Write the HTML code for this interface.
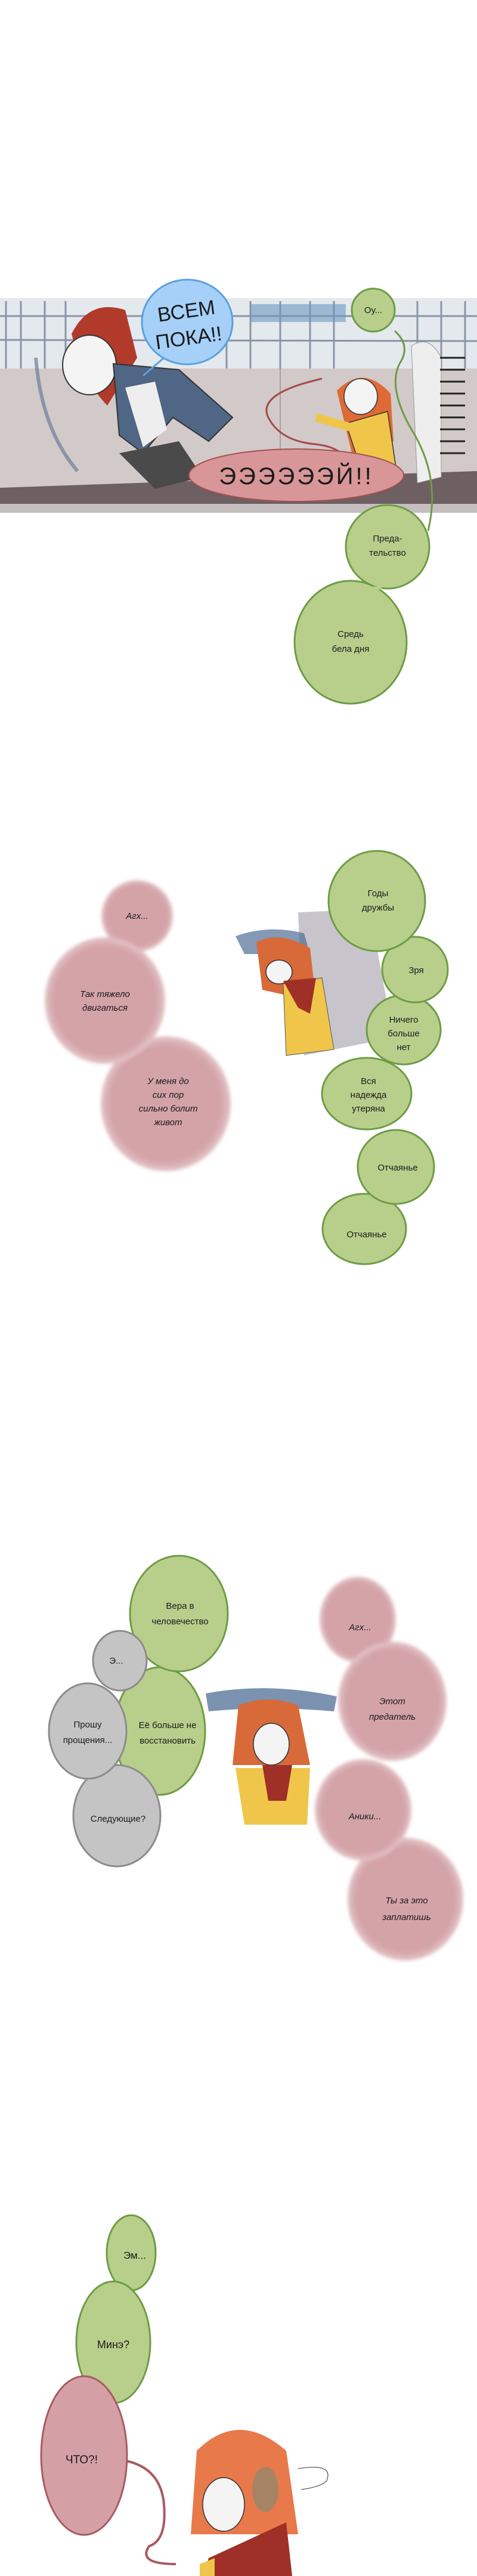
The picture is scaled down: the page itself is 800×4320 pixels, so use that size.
<!DOCTYPE html>
<html><head><meta charset="utf-8"><style>
html,body{margin:0;padding:0;background:#fff}
svg{display:block}
text{font-family:"Liberation Sans",sans-serif;fill:#1a1a1a}
.g{fill:#b8cf8c;stroke:#6e9c45;stroke-width:3}
.gr{fill:#c4c4c4;stroke:#8c8c8c;stroke-width:3}
.t{font-size:15px;text-anchor:middle}
.i{font-size:15px;text-anchor:middle;font-style:italic}
</style></head><body>
<svg width="800" height="4320" viewBox="0 0 800 4320" xmlns="http://www.w3.org/2000/svg">
<defs>
<filter id="soft" x="-20%" y="-20%" width="140%" height="140%"><feGaussianBlur stdDeviation="3"/></filter>
<radialGradient id="pk" cx="50%" cy="50%" r="50%">
<stop offset="0" stop-color="#d3a3a8"/><stop offset="0.85" stop-color="#d3a3a8"/><stop offset="1" stop-color="#e4c4c7"/>
</radialGradient>
</defs>

<!-- PANEL 1 -->
<rect x="0" y="500" width="800" height="120" fill="#e4e9ee"/>
<g stroke="#8a95a5" stroke-width="3">
<line x1="10" y1="505" x2="10" y2="618"/><line x1="35" y1="505" x2="35" y2="618"/><line x1="75" y1="505" x2="75" y2="618"/><line x1="110" y1="505" x2="110" y2="618"/>
<line x1="380" y1="505" x2="380" y2="618"/><line x1="420" y1="505" x2="420" y2="618"/><line x1="470" y1="505" x2="470" y2="618"/><line x1="520" y1="505" x2="520" y2="618"/><line x1="560" y1="505" x2="560" y2="618"/>
<line x1="700" y1="505" x2="700" y2="618"/><line x1="740" y1="505" x2="740" y2="618"/><line x1="780" y1="505" x2="780" y2="618"/>
<line x1="0" y1="530" x2="800" y2="530"/><line x1="0" y1="570" x2="800" y2="572"/>
</g>
<rect x="420" y="510" width="160" height="30" fill="#6d9ac0" opacity="0.6"/>
<rect x="0" y="618" width="800" height="205" fill="#d2c9c9"/>
<line x1="470" y1="618" x2="470" y2="860" stroke="#9a9090" stroke-width="1.5"/>
<polygon points="0,818 800,790 800,860 0,860" fill="#6e5f63"/>
<rect x="0" y="845" width="800" height="18" fill="#fff" opacity="0.6"/>
<!-- left character -->
<path d="M120,560 Q150,500 210,520 L230,600 L180,680 Q140,640 120,560Z" fill="#b23a2a"/>
<ellipse cx="150" cy="612" rx="45" ry="50" fill="#f4f4f4" stroke="#333" stroke-width="2"/>
<path d="M190,610 L300,620 L390,700 L350,740 L290,700 L240,760 L200,730Z" fill="#4f6685" stroke="#333" stroke-width="2"/>
<path d="M210,650 L260,640 L280,720 L240,750Z" fill="#eee"/>
<path d="M200,760 L300,740 L340,800 L260,820 L230,790Z" fill="#4a4a4a"/>
<path d="M60,600 Q70,720 130,790" stroke="#6b7f9a" stroke-width="6" fill="none" opacity="0.7"/>
<!-- right character -->
<path d="M565,655 Q610,610 655,660 L660,740 L590,760Z" fill="#e06a35"/>
<ellipse cx="605" cy="665" rx="28" ry="30" fill="#f4f4f4" stroke="#333" stroke-width="1.5"/>
<path d="M580,710 L650,690 L665,790 L610,800Z" fill="#f0c64a" stroke="#333" stroke-width="1.5"/>
<path d="M530,700 L600,720" stroke="#f0c64a" stroke-width="14"/>
<path d="M690,580 Q720,560 740,600 L740,800 L700,810 Z" fill="#eee" stroke="#999"/>
<g stroke="#222" stroke-width="3"><line x1="738" y1="600" x2="780" y2="600"/><line x1="738" y1="620" x2="780" y2="620"/><line x1="738" y1="640" x2="780" y2="640"/><line x1="738" y1="660" x2="780" y2="660"/><line x1="738" y1="680" x2="780" y2="680"/><line x1="738" y1="700" x2="780" y2="700"/><line x1="738" y1="720" x2="780" y2="720"/><line x1="738" y1="740" x2="780" y2="740"/><line x1="738" y1="760" x2="780" y2="760"/></g>
<!-- red tail -->
<path d="M540,635 Q430,660 450,700 Q470,740 530,745 Q570,750 580,770" stroke="#a64848" stroke-width="3" fill="none"/>
<!-- green tail -->
<path d="M662,555 Q690,580 670,610 Q650,650 690,720 Q740,800 718,890" stroke="#6e9c45" stroke-width="3" fill="none"/>

<!-- blue bubble -->
<path d="M240,630 L275,600" stroke="#5aa0e0" stroke-width="3"/>
<ellipse cx="314" cy="540" rx="76" ry="71" fill="#a6d0f7" stroke="#5aa0e0" stroke-width="3"/>
<text x="314" y="533" style="font-size:34px;text-anchor:middle" transform="rotate(-8 314 533)">ВСЕМ</text>
<text x="318" y="578" style="font-size:34px;text-anchor:middle" transform="rotate(-8 318 578)">ПОКА!!</text>
<!-- red ellipse -->
<ellipse cx="497" cy="797" rx="180" ry="44" fill="#d89698" stroke="#a65050" stroke-width="2"/>
<text x="497" y="812" style="font-size:40px;text-anchor:middle;letter-spacing:4px">ЭЭЭЭЭЭЙ!!</text>
<!-- green bubbles -->
<circle cx="626" cy="520" r="36" class="g"/>
<text x="626" y="525" class="t">Оу...</text>
<ellipse cx="588" cy="1077" rx="94" ry="103" class="g"/>
<ellipse cx="650" cy="917" rx="70" ry="70" class="g"/>
<path d="M600,980 Q620,990 640,985" stroke="#b8cf8c" stroke-width="6" fill="none"/>
<text x="650" y="908" class="t">Преда-</text>
<text x="650" y="932" class="t">тельство</text>
<text x="588" y="1068" class="t">Средь</text>
<text x="588" y="1093" class="t">бела дня</text>

<!-- PANEL 2 -->
<g filter="url(#soft)">
<circle cx="230" cy="1536" r="60" fill="url(#pk)"/>
<ellipse cx="278" cy="1851" rx="109" ry="113" fill="url(#pk)"/>
<ellipse cx="176" cy="1678" rx="101" ry="106" fill="url(#pk)"/>
</g>
<text x="230" y="1541" class="i">Агх...</text>
<text x="176" y="1672" class="i">Так тяжело</text>
<text x="176" y="1695" class="i">двигаться</text>
<text x="282" y="1818" class="i">У меня до</text>
<text x="282" y="1841" class="i">сих пор</text>
<text x="282" y="1864" class="i">сильно болит</text>
<text x="282" y="1887" class="i">живот</text>
<!-- character 2 -->
<path d="M500,1530 L620,1525 L660,1740 L510,1770Z" fill="#c7c4cc"/>
<path d="M395,1570 Q450,1550 510,1565 L520,1600 L410,1600Z" fill="#4f6d96" opacity="0.7"/>
<path d="M430,1580 Q470,1560 520,1590 L530,1680 L440,1660Z" fill="#d86a3a"/>
<ellipse cx="468" cy="1630" rx="22" ry="20" fill="#f4f4f4" stroke="#333" stroke-width="1.5"/>
<path d="M475,1650 L540,1640 L560,1760 L480,1770Z" fill="#f0c64a" stroke="#555" stroke-width="1"/>
<path d="M475,1645 L530,1640 L520,1700 L500,1690Z" fill="#9e3027"/>
<!-- green chain -->
<ellipse cx="611" cy="2061" rx="70" ry="59" class="g"/>
<ellipse cx="664" cy="1957" rx="64" ry="62" class="g"/>
<ellipse cx="615" cy="1834" rx="75" ry="60" class="g"/>
<ellipse cx="677" cy="1727" rx="62" ry="58" class="g"/>
<circle cx="696" cy="1626" r="55" class="g"/>
<ellipse cx="632" cy="1511" rx="81" ry="84" class="g"/>
<text x="634" y="1503" class="t">Годы</text>
<text x="634" y="1527" class="t">дружбы</text>
<text x="698" y="1632" class="t">Зря</text>
<text x="677" y="1715" class="t">Ничего</text>
<text x="677" y="1738" class="t">больше</text>
<text x="677" y="1761" class="t">нет</text>
<text x="618" y="1818" class="t">Вся</text>
<text x="618" y="1841" class="t">надежда</text>
<text x="618" y="1864" class="t">утеряна</text>
<text x="667" y="1963" class="t">Отчаянье</text>
<text x="615" y="2075" class="t">Отчаянье</text>

<!-- PANEL 3 -->
<ellipse cx="268" cy="2903" rx="76" ry="107" class="g"/>
<ellipse cx="300" cy="2706" rx="82" ry="97" class="g"/>
<ellipse cx="196" cy="3045" rx="73" ry="85" class="gr"/>
<ellipse cx="147" cy="2903" rx="65" ry="80" class="gr"/>
<ellipse cx="201" cy="2785" rx="45" ry="50" class="gr"/>
<text x="302" y="2698" class="t">Вера в</text>
<text x="302" y="2724" class="t">человечество</text>
<text x="195" y="2790" class="t">Э...</text>
<text x="147" y="2897" class="t">Прошу</text>
<text x="147" y="2923" class="t">прощения...</text>
<text x="281" y="2898" class="t">Её больше не</text>
<text x="281" y="2924" class="t">восстановить</text>
<text x="198" y="3055" class="t">Следующие?</text>
<!-- character 3 -->
<path d="M345,2840 Q450,2820 565,2845 L560,2870 Q450,2860 350,2870Z" fill="#4f6d96" opacity="0.75"/>
<path d="M400,2860 Q450,2840 500,2860 L520,2960 L390,2960Z" fill="#d86a3a"/>
<ellipse cx="455" cy="2925" rx="30" ry="35" fill="#f4f4f4" stroke="#333" stroke-width="1.5"/>
<path d="M395,2965 L520,2965 L515,3060 L410,3060Z" fill="#f0c64a"/>
<path d="M440,2960 L490,2960 L480,3020 L450,3020Z" fill="#9e3027"/>
<g filter="url(#soft)">
<ellipse cx="600" cy="2716" rx="64" ry="72" fill="url(#pk)"/>
<ellipse cx="680" cy="3185" rx="97" ry="103" fill="url(#pk)"/>
<ellipse cx="609" cy="3035" rx="81" ry="85" fill="url(#pk)"/>
<ellipse cx="658" cy="2853" rx="91" ry="100" fill="url(#pk)"/>
</g>
<text x="604" y="2734" class="i">Агх...</text>
<text x="658" y="2858" class="i">Этот</text>
<text x="658" y="2884" class="i">предатель</text>
<text x="612" y="3051" class="i">Аники...</text>
<text x="682" y="3192" class="i">Ты за это</text>
<text x="682" y="3220" class="i">заплатишь</text>

<!-- PANEL 4 -->
<ellipse cx="220" cy="3778" rx="41" ry="63" class="g"/>
<ellipse cx="190" cy="3928" rx="62" ry="102" class="g"/>
<ellipse cx="141" cy="4118" rx="72" ry="133" fill="#d4a0a5" stroke="#a85a62" stroke-width="3"/>
<path d="M212,4127 Q270,4140 275,4200 Q280,4260 250,4270 Q230,4300 295,4300" stroke="#a85a62" stroke-width="4" fill="none"/>
<text x="226" y="3788" class="t" style="font-size:17px">Эм...</text>
<text x="190" y="3938" class="t" style="font-size:18px">Минэ?</text>
<text x="137" y="4131" class="t" style="font-size:19px">ЧТО?!</text>
<!-- character 4 -->
<path d="M330,4110 Q400,4040 480,4110 L500,4250 L320,4250Z" fill="#e8794a"/>
<ellipse cx="375" cy="4200" rx="35" ry="45" fill="#f4f4f4" stroke="#333" stroke-width="1.5"/>
<ellipse cx="445" cy="4175" rx="22" ry="38" fill="#a58465"/>
<path d="M350,4290 L480,4230 L490,4320 L340,4320Z" fill="#9e3027"/>
<path d="M335,4300 L360,4290 L360,4320 L335,4320Z" fill="#f0c64a"/>
<path d="M500,4140 Q560,4130 548,4160 Q540,4170 505,4175" stroke="#333" stroke-width="1" fill="none"/>
</svg>
</body></html>
